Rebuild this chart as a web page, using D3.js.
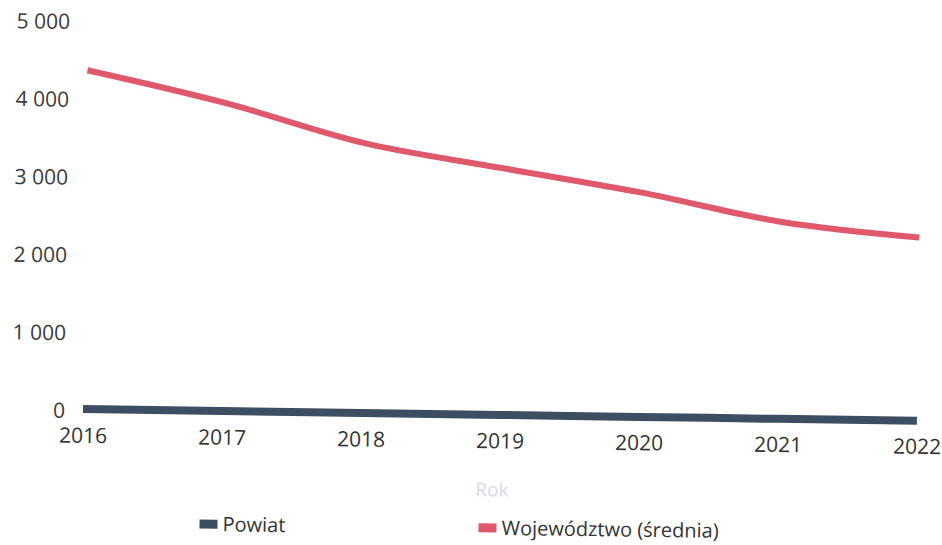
<!DOCTYPE html>
<html>
<head>
<meta charset="utf-8">
<script src="https://cdn.jsdelivr.net/npm/d3@7"></script>
<style>
  html, body { margin: 0; padding: 0; background: #fff; }
  svg { display: block; font-family: "Open Sans", "Noto Sans", sans-serif; }
</style>
</head>
<body>
<svg id="chart" width="942" height="545"></svg>
<script>
// ---- data ----
const years = [2016, 2017, 2018, 2019, 2020, 2021, 2022];
const powiat = [25, 24, 22, 20, 18, 16, 14];
const wojewodztwo = [4380, 3980, 3490, 3190, 2900, 2550, 2370];
const yTicks = [0, 1000, 2000, 3000, 4000, 5000];
const seriesNames = ["Powiat", "Województwo (średnia)"];
const xTitle = "Rok";

// ---- layout ----
const mLeft = 83, mRight = 917, mTop = 22, mBottom = 411;
const colors = ["#3e4e62", "#e0586c"];

const svg = d3.select("#chart");
const root = svg.append("g").attr("transform", `rotate(0.75, ${mLeft}, ${mBottom})`);

const x = d3.scalePoint().domain(years).range([mLeft, mRight]);
const y = d3.scaleLinear().domain([0, 5000]).range([mBottom, mTop]);

const loc = d3.formatLocale({ decimal: ",", thousands: "\u00a0", grouping: [3], currency: ["", " zł"] });
const fmt = loc.format(",d");

// y axis labels
const yAxis = d3.axisLeft(y).tickValues(yTicks).tickFormat(fmt).tickSize(0).tickPadding(0);
const yg = root.append("g").attr("transform", `translate(65,0)`).call(yAxis);
yg.select(".domain").remove();
yg.selectAll("text").attr("font-size", 21).attr("fill", "#3a3a3a")
  .attr("font-family", "'Open Sans', sans-serif");

// x axis labels
const xAxis = d3.axisBottom(x).tickSize(0).tickPadding(0).tickFormat(d3.format("d"));
const xg = root.append("g").attr("transform", `translate(0,${mBottom + 17})`).call(xAxis);
xg.select(".domain").remove();
xg.selectAll("text").attr("font-size", 21).attr("fill", "#333")
  .attr("font-family", "'Open Sans', sans-serif");

// x title
root.append("text").attr("x", 493).attr("y", mBottom + 73)
  .attr("text-anchor", "middle").attr("dominant-baseline", "central")
  .attr("font-size", 19).attr("fill", "#d8d8e6")
  .text(xTitle);

// lines
const line = d3.line().x((d, i) => x(years[i])).y(d => y(d)).curve(d3.curveMonotoneX);
[powiat, wojewodztwo].forEach((s, k) => {
  root.append("path").datum(s).attr("d", line)
    .attr("fill", "none").attr("stroke", colors[k])
    .attr("stroke-width", k === 0 ? 8 : 6)
    .attr("stroke-linecap", "butt").attr("stroke-linejoin", "round");
});

// legend
const legendX = [201, 480];
seriesNames.forEach((n, k) => {
  const g = root.append("g").attr("transform", `translate(${legendX[k]}, 522)`);
  g.append("rect").attr("x", 0).attr("y", -4).attr("width", 18).attr("height", 9).attr("fill", colors[k]);
  g.append("text").attr("x", 23).attr("y", 0).attr("dominant-baseline", "central")
    .attr("font-size", 20).attr("fill", "#333").text(n);
});
</script>
</body>
</html>
